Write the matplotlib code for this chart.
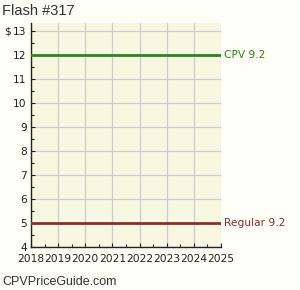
import matplotlib
matplotlib.use("Agg")
import matplotlib.pyplot as plt
import numpy as np

# 数据
title = "Flash #317"
years = [2018, 2019, 2020, 2021, 2022, 2023, 2024, 2025]
cpv_price = [12, 12, 12, 12, 12, 12, 12, 12]
regular_price = [5, 5, 5, 5, 5, 5, 5, 5]
cpv_label = "CPV 9.2"
regular_label = "Regular 9.2"
y_ticks = [4, 5, 6, 7, 8, 9, 10, 11, 12, 13]

plt.rcParams["font.family"] = ["DejaVu Sans"]

fig = plt.figure(figsize=(3.0, 2.9), dpi=100, facecolor="#fffff8")
ax = fig.add_axes([0.1033, 0.1483, 0.6334, 0.7724], facecolor="#f8f8e2")

ax.plot(years, cpv_price, color="#2d861c", lw=2, zorder=3)
ax.plot(years, regular_price, color="#8b2e2e", lw=2, zorder=3)

ax.text(years[-1] + 0.1, cpv_price[-1], cpv_label, color="#2d861c",
        fontsize=7.7, va="center", ha="left", clip_on=False)
ax.text(years[-1] + 0.1, regular_price[-1], regular_label, color="#8b2e2e",
        fontsize=7.7, va="center", ha="left", clip_on=False)

ax.set_xlim(2018, 2025)
ax.set_ylim(4, 13.33)
ax.set_xticks(years)
ax.set_yticks(y_ticks)
ax.set_xticks(np.arange(2018, 2025.01, 0.5), minor=True)
ax.set_yticks(np.arange(4, 13.01, 0.5), minor=True)
ax.tick_params(which="both", direction="in", length=3, width=0.8, labelsize=7.7,
               colors="#222222", pad=3)
ax.tick_params(which="minor", length=2)
ax.tick_params(axis="x", pad=5)
ax.grid(which="major", color="#cccccc", lw=0.9, zorder=0)

for side in ["top", "right"]:
    ax.spines[side].set_visible(False)
for side in ["left", "bottom"]:
    ax.spines[side].set_color("#222222")
    ax.spines[side].set_linewidth(1)

# 纵轴单位
fig.text(0.013, 1 - 31 / 290, "$", fontsize=7.7, color="#222222", va="center", ha="left")
fig.text(0.008, 0.985, title, fontsize=10.5, color="#333333", va="top", ha="left",
         family=["Liberation Sans", "DejaVu Sans"])
fig.text(0.008, 0.008, "CPVPriceGuide.com", fontsize=9, color="#333333",
         va="bottom", ha="left", family=["Liberation Sans", "DejaVu Sans"])

fig.savefig("out.png", dpi=100, facecolor=fig.get_facecolor())
